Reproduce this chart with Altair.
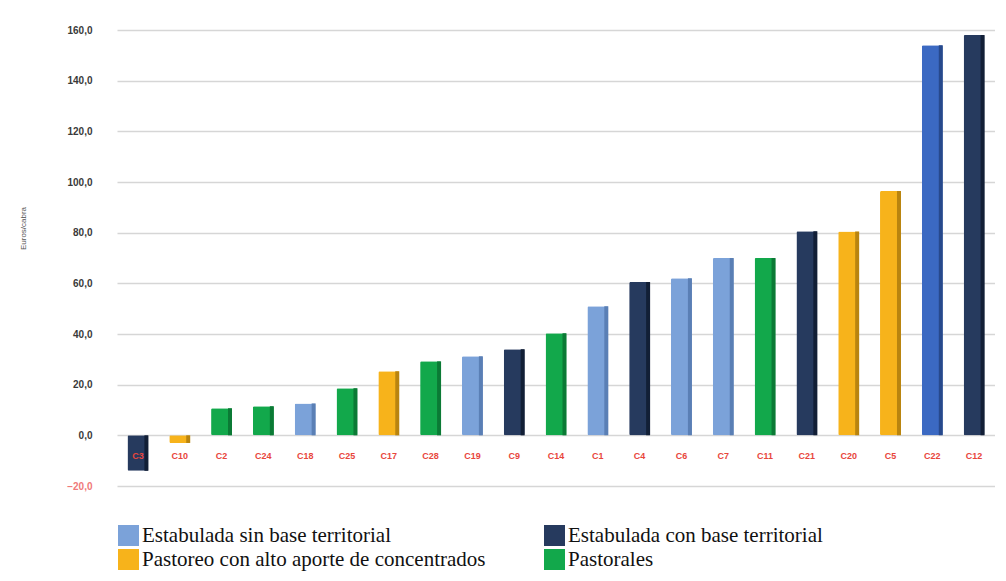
import altair as alt
import pandas as pd

categories = ["C3", "C10", "C2", "C24", "C18", "C25", "C17", "C28", "C19", "C9", "C14",
              "C1", "C4", "C6", "C7", "C11", "C21", "C20", "C5", "C22", "C12"]
values = [-14.0, -3.0, 10.7, 11.5, 12.6, 18.6, 25.3, 29.2, 31.2, 34.0, 40.3,
          51.0, 60.5, 62.0, 70.0, 70.0, 80.6, 80.5, 96.4, 154.0, 158.0]
groups = ["con", "pas", "pst", "pst", "sin", "pst", "pas", "pst", "sin", "con", "pst",
          "sin", "con", "sin", "sin", "pst", "con", "pas", "pas", "sin2", "con"]

group_names = {
    "sin": "Estabulada sin base territorial",
    "con": "Estabulada con base territorial",
    "pas": "Pastoreo con alto aporte de concentrados",
    "pst": "Pastorales",
    "sin2": "Estabulada sin base territorial ",
}
legend_order = [group_names["sin"], group_names["con"], group_names["pas"], group_names["pst"]]
domain = legend_order + [group_names["sin2"]]
front_colors = ["#7ba2d9", "#263a5e", "#f7b31b", "#12a84b", "#3b69c2"]
side_colors = {"sin": "#5a7fb5", "con": "#121f36", "pas": "#b9840f", "pst": "#0b7a35", "sin2": "#27498c"}

df = pd.DataFrame({
    "cat": categories,
    "val": values,
    "grupo": [group_names[g] for g in groups],
    "side": [side_colors[g] for g in groups],
})

xenc = alt.X("cat:N", sort=categories, axis=None,
             scale=alt.Scale(paddingInner=0.5, paddingOuter=0.25))

bars = alt.Chart(df).mark_bar(width=alt.RelativeBandSize(1.0), cornerRadius=1.5).encode(
    x=xenc,
    y=alt.Y("val:Q", title="Euros/cabra",
            scale=alt.Scale(domain=[-20, 160], nice=False, zero=False),
            axis=alt.Axis(values=list(range(-20, 161, 20)),
                          labelExpr="replace(format(datum.value, '.1f'), '.', ',')",
                          labelColor={"expr": "datum.value < 0 ? '#f07a7a' : '#3a3a3a'"},
                          labelFont="Liberation Sans", labelFontSize=10, labelFontWeight="bold",
                          labelPadding=25, ticks=False, domain=False,
                          grid=True, gridColor="#d6d6d6", gridWidth=1.5,
                          titleFont="Liberation Sans", titleFontSize=8, titleFontWeight="normal",
                          titleColor="#555555", titleAngle=-90, titleX=-94, titleY=198,
                          titleAlign="center", titleBaseline="middle")),
    color=alt.Color("grupo:N",
                    scale=alt.Scale(domain=domain, range=front_colors),
                    legend=alt.Legend(values=legend_order, title=None, orient="none",
                                      legendX=1, legendY=495, columns=2, direction="horizontal",
                                      symbolType="square", symbolSize=441, symbolStrokeWidth=0,
                                      symbolOpacity=1, labelFont="Liberation Serif",
                                      labelFontSize=21, labelColor="#111111", labelOffset=3,
                                      labelLimit=500, rowPadding=2, columnPadding=58)),
)

side = alt.Chart(df).mark_bar(width=4, xOffset=8.5).encode(
    x=xenc,
    y="val:Q",
    color=alt.Color("side:N", scale=None),
)

labels = alt.Chart(df).mark_text(font="Liberation Sans", fontSize=9, fontWeight="bold",
                                  color="#e8463c").encode(
    x=xenc,
    y=alt.datum(-8),
    text="cat:N",
)

chart = alt.layer(bars, side, labels).properties(
    width=878, height=456,
    padding={"left": 109, "top": 22, "right": 0, "bottom": 87},
    autosize=alt.AutoSizeParams(type="none"),
).configure_view(stroke=None)

chart.save("out.html", embed_options={"renderer": "svg", "actions": False})
